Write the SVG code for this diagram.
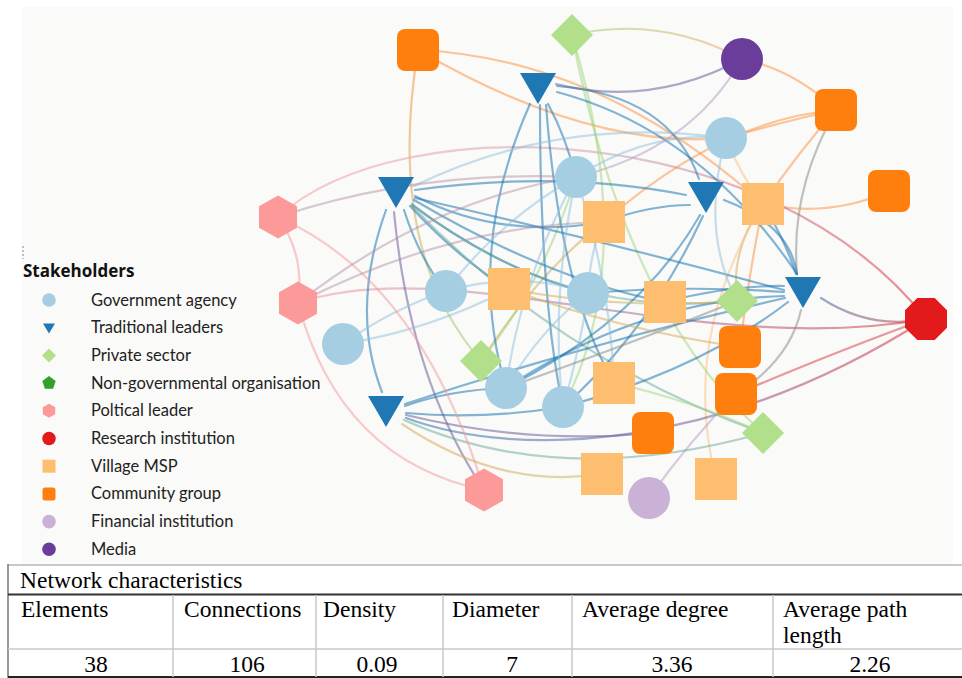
<svg xmlns="http://www.w3.org/2000/svg" width="962" height="678" viewBox="0 0 962 678">
<defs>
<style>
.e path{fill:none;stroke-width:2.2;stroke-linecap:round}
.b{stroke:#1f78b4;stroke-opacity:.55}
.lb{stroke:#8ec0dc;stroke-opacity:.5}
.o{stroke:#fd8d3c;stroke-opacity:.5}
.g{stroke:#9ed37a;stroke-opacity:.5}
.p{stroke:#f49a9a;stroke-opacity:.5}
.m{stroke:#b08aa0;stroke-opacity:.45}
.r{stroke:#d9474f;stroke-opacity:.55}
.pu{stroke:#6f5f9e;stroke-opacity:.55}
.t{stroke:#d2b060;stroke-opacity:.55}
.gy{stroke:#8c9090;stroke-opacity:.55}
.te{stroke:#6aa89a;stroke-opacity:.5}
.la{stroke:#b9a0cc;stroke-opacity:.55}
.pe{stroke:#fbc48e;stroke-opacity:.55}
.gr{stroke-opacity:.55}
.ga{fill:#a6cee3}
.tl{fill:#1f78b4}
.ps{fill:#b2df8a}
.pl{fill:#fb9a99}
.vm{fill:#fdbf6f}
.cg{fill:#ff7f0e}
.lg{font-family:Lato,"Open Sans","Liberation Sans",sans-serif;font-size:16.5px;fill:#222}
.tb{font-family:"Liberation Serif","Times New Roman",serif;font-size:23.5px;fill:#000}
</style>
<linearGradient id="gPL1RI" gradientUnits="userSpaceOnUse" x1="278" y1="217" x2="926" y2="319"><stop offset="0" stop-color="#f4a0a8"/><stop offset="0.5" stop-color="#c8a0b4"/><stop offset="1" stop-color="#d9303a"/></linearGradient>
<linearGradient id="gPL2RI" gradientUnits="userSpaceOnUse" x1="298" y1="303" x2="926" y2="319"><stop offset="0" stop-color="#f4a0a8"/><stop offset="0.5" stop-color="#9a70a0"/><stop offset="1" stop-color="#d9303a"/></linearGradient>
<linearGradient id="gTL5RI" gradientUnits="userSpaceOnUse" x1="386" y1="411" x2="926" y2="319"><stop offset="0" stop-color="#1f78b4"/><stop offset="0.5" stop-color="#6f5f9e"/><stop offset="1" stop-color="#d9303a"/></linearGradient>
<linearGradient id="gTL4RI" gradientUnits="userSpaceOnUse" x1="803" y1="292" x2="926" y2="319"><stop offset="0" stop-color="#1f78b4"/><stop offset="1" stop-color="#d9303a"/></linearGradient>
<linearGradient id="gCG1PS2" gradientUnits="userSpaceOnUse" x1="418" y1="50" x2="481" y2="361"><stop offset="0" stop-color="#fd8d3c"/><stop offset="1" stop-color="#9ed37a"/></linearGradient>
<linearGradient id="gPS1MED" gradientUnits="userSpaceOnUse" x1="572" y1="35" x2="742" y2="59"><stop offset="0" stop-color="#9ed37a"/><stop offset="1" stop-color="#f0a060"/></linearGradient>
<polygon id="tri" points="-18,-15 18,-15 0,16"/>
<polygon id="dia" points="0,-21 21,0 0,21 -21,0"/>
<polygon id="hex" points="0,-21.5 19,-10.75 19,10.75 0,21.5 -19,10.75 -19,-10.75"/>
<rect id="sq" x="-21" y="-21" width="42" height="42"/>
<rect id="rsq" x="-21" y="-21" width="42" height="42" rx="8"/>
</defs>
<rect x="0" y="0" width="962" height="678" fill="#ffffff"/>
<rect x="22" y="7" width="931" height="556" fill="#fafaf8"/>
<line x1="23" y1="246" x2="23" y2="259" stroke="#aaa" stroke-width="1.5" stroke-dasharray="2,2"/>

<g id="connectors" class="e">
<path class="o" d="M418,50 Q600,58 763,204"/>
<path class="o" d="M418,50 Q590,150 726,138"/>
<path class="gr" stroke="url(#gCG1PS2)" d="M418,50 Q385,250 481,361"/>
<path class="o" d="M742,59 Q795,70 836,110"/>
<path class="gr" stroke="url(#gPS1MED)" d="M572,35 Q660,15 742,59"/>
<path class="o" d="M836,110 Q790,120 726,138"/>
<path class="o" d="M836,110 Q720,120 604,222"/>
<path class="o" d="M836,110 Q800,150 763,204"/>
<path class="gy" d="M836,110 Q790,190 797,274"/>
<path class="o" d="M889,191 Q830,218 763,204"/>
<path class="gr" stroke="url(#gPL1RI)" d="M278,217 C400,105 770,120 926,319"/>
<path class="pe" d="M763,204 Q740,175 726,138"/>
<path class="o" d="M763,204 Q748,280 740,347"/>
<path class="t" d="M763,204 Q730,250 737,301"/>
<path class="pe" d="M763,204 Q680,340 716,479"/>
<path class="b" d="M796,274 Q785,240 763,204"/>
<path class="gr" stroke="url(#gPL2RI)" d="M298,303 C450,250 700,360 926,319"/>
<path class="r" d="M736,394 Q840,350 926,319"/>
<path class="gr" stroke="url(#gTL5RI)" d="M406,418 C520,460 720,450 926,319"/>
<path class="gy" d="M736,394 Q790,360 801,310"/>
<path class="la" d="M736,394 Q690,440 649,498"/>
<path class="pu" d="M556,84 Q650,108 742,59"/>
<path class="la" d="M742,59 Q690,150 576,177"/>
<path class="g" d="M572,35 Q625,310 763,433"/>
<path class="g" d="M572,35 Q640,260 563,407"/>
<path class="t" d="M604,222 Q540,270 481,361"/>
<path class="g" d="M576,177 Q545,280 481,361"/>
<path class="b" d="M548,104 Q565,135 576,177"/>
<path class="b" d="M530,104 Q465,250 506,388"/>
<path class="b" d="M540,105 Q540,300 563,407"/>
<path class="b" d="M546,105 Q560,290 614,383"/>
<path class="b" d="M557,86 Q670,95 699,179"/>
<path class="b" d="M557,92 Q700,130 797,274"/>
<path class="b" d="M404,210 Q420,260 446,291"/>
<path class="b" d="M410,206 Q460,260 509,289"/>
<path class="b" d="M412,205 Q500,270 588,293"/>
<path class="b" d="M414,200 Q550,280 665,302"/>
<path class="b" d="M415,198 Q600,240 784,290"/>
<path class="b" d="M415,196 Q500,240 604,222"/>
<path class="b" d="M415,190 Q560,170 686,195"/>
<path class="b" d="M386,210 Q350,310 382,392"/>
<path class="pu" d="M394,212 Q410,380 484,490"/>
<path class="te" d="M412,204 Q560,320 737,301"/>
<path class="lb" d="M414,186 Q560,115 726,138"/>
<path class="te" d="M412,206 Q560,360 763,433"/>
<path class="b" d="M690,205 Q650,205 604,222"/>
<path class="b" d="M700,215 Q640,320 506,388"/>
<path class="b" d="M703,216 Q650,330 563,407"/>
<path class="b" d="M724,200 Q790,225 797,274"/>
<path class="lb" d="M726,138 Q700,230 737,301"/>
<path class="lb" d="M576,177 Q650,130 726,138"/>
<path class="b" d="M588,293 Q690,285 784,292"/>
<path class="b" d="M665,302 Q730,285 784,286"/>
<path class="b" d="M506,388 Q640,300 784,296"/>
<path class="b" d="M405,404 Q600,340 785,298"/>
<path class="b" d="M563,407 Q700,370 788,302"/>
<path class="gr" stroke="url(#gTL4RI)" d="M821,298 Q870,330 926,319"/>
<path class="b" d="M405,406 Q450,390 506,388"/>
<path class="b" d="M406,413 Q480,420 563,407"/>
<path class="te" d="M404,420 Q560,490 763,433"/>
<path class="t" d="M402,424 Q500,490 602,474"/>
<path class="pu" d="M406,415 Q530,445 653,433"/>
<path class="lb" d="M343,344 Q390,310 446,291"/>
<path class="lb" d="M343,344 Q430,330 509,289"/>
<path class="lb" d="M576,177 Q500,220 446,291"/>
<path class="lb" d="M576,177 Q520,280 506,388"/>
<path class="lb" d="M576,177 Q550,300 563,407"/>
<path class="lb" d="M588,293 Q580,350 563,407"/>
<path class="lb" d="M588,293 Q540,330 506,388"/>
<path class="lb" d="M576,177 Q610,280 614,383"/>
<path class="lb" d="M446,291 Q520,270 588,293"/>
<path class="gy" d="M506,388 Q640,340 737,301"/>
<path class="lb" d="M588,293 Q590,250 604,222"/>
<path class="g" d="M614,383 Q690,400 763,433"/>
<path class="t" d="M509,289 Q620,330 740,347"/>
<path class="t" d="M509,289 Q620,310 737,301"/>
<path class="p" d="M278,217 Q305,255 298,303"/>
<path class="p" d="M278,217 Q420,280 484,490"/>
<path class="p" d="M298,303 Q340,460 484,490"/>
<path class="m" d="M278,217 Q420,170 576,177"/>
<path class="m" d="M298,303 Q430,200 576,177"/>
<path class="m" d="M298,303 Q450,225 604,222"/>
</g>

<g id="n-cg1"><use href="#rsq" class="cg" x="418" y="50"/></g>
<g id="n-cg2"><use href="#rsq" class="cg" x="836" y="110"/></g>
<g id="n-cg3"><use href="#rsq" class="cg" x="889" y="191"/></g>
<g id="n-cg4"><use href="#rsq" class="cg" x="740" y="347"/></g>
<g id="n-cg5"><use href="#rsq" class="cg" x="736" y="394"/></g>
<g id="n-cg6"><use href="#rsq" class="cg" x="653" y="433"/></g>
<g id="n-media"><circle cx="742" cy="59" r="21" fill="#6a3d9a"/></g>
<g id="n-fi"><circle cx="649" cy="498" r="21" fill="#cab2d6"/></g>
<g id="n-ri"><polygon points="947,327.7 934.7,340 917.3,340 905,327.7 905,310.3 917.3,298 934.7,298 947,310.3" fill="#e31a1c"/></g>
<g id="n-ps1"><use href="#dia" class="ps" x="572" y="35"/></g>
<g id="n-ps2"><use href="#dia" class="ps" x="481" y="361"/></g>
<g id="n-ps3"><use href="#dia" class="ps" x="737" y="301"/></g>
<g id="n-ps4"><use href="#dia" class="ps" x="763" y="433"/></g>
<g id="n-tl1"><use href="#tri" class="tl" x="538" y="88"/></g>
<g id="n-tl2"><use href="#tri" class="tl" x="396" y="192"/></g>
<g id="n-tl3"><use href="#tri" class="tl" x="706" y="197"/></g>
<g id="n-tl4"><use href="#tri" class="tl" x="803" y="292"/></g>
<g id="n-tl5"><use href="#tri" class="tl" x="386" y="411"/></g>
<g id="n-ga1"><circle class="ga" cx="726" cy="138" r="21"/></g>
<g id="n-ga2"><circle class="ga" cx="576" cy="177" r="21"/></g>
<g id="n-ga3"><circle class="ga" cx="446" cy="291" r="21"/></g>
<g id="n-ga4"><circle class="ga" cx="588" cy="293" r="21"/></g>
<g id="n-ga5"><circle class="ga" cx="343" cy="344" r="21"/></g>
<g id="n-ga6"><circle class="ga" cx="506" cy="388" r="21"/></g>
<g id="n-ga7"><circle class="ga" cx="563" cy="407" r="21"/></g>
<g id="n-vm1"><use href="#sq" class="vm" x="763" y="204"/></g>
<g id="n-vm2"><use href="#sq" class="vm" x="604" y="222"/></g>
<g id="n-vm3"><use href="#sq" class="vm" x="509" y="289"/></g>
<g id="n-vm4"><use href="#sq" class="vm" x="665" y="302"/></g>
<g id="n-vm5"><use href="#sq" class="vm" x="614" y="383"/></g>
<g id="n-vm6"><use href="#sq" class="vm" x="602" y="474"/></g>
<g id="n-vm7"><use href="#sq" class="vm" x="716" y="479"/></g>
<g id="n-pl1"><use href="#hex" class="pl" x="278" y="217"/></g>
<g id="n-pl2"><use href="#hex" class="pl" x="298" y="303"/></g>
<g id="n-pl3"><use href="#hex" class="pl" x="484" y="490"/></g>

<g id="legend">
<text x="23" y="277" font-family="'Open Sans',Lato,'Liberation Sans',sans-serif" font-size="17" font-weight="bold" fill="#111">Stakeholders</text>
<circle cx="49" cy="300" r="6.8" fill="#a6cee3"/>
<text class="lg" x="91" y="305.5">Government agency</text>
<polygon points="43,323.5 55,323.5 49,333.5" fill="#1f78b4"/>
<text class="lg" x="91" y="333.2">Traditional leaders</text>
<polygon points="49,348.4 56,355.4 49,362.4 42,355.4" fill="#b2df8a"/>
<text class="lg" x="91" y="360.9">Private sector</text>
<polygon points="49,376.1 55.7,381 53.1,388.8 44.9,388.8 42.3,381" fill="#33a02c"/>
<text class="lg" x="91" y="388.6">Non-governmental organisation</text>
<polygon points="49,403.8 55.2,407.3 55.2,414.3 49,417.8 42.8,414.3 42.8,407.3" fill="#fb9a99"/>
<text class="lg" x="91" y="416.3">Poltical leader</text>
<circle cx="49" cy="438.5" r="6.8" fill="#e31a1c"/>
<text class="lg" x="91" y="444">Research institution</text>
<rect x="42.5" y="459.7" width="13" height="13" fill="#fdbf6f"/>
<text class="lg" x="91" y="471.7">Village MSP</text>
<rect x="42.5" y="487.4" width="13" height="13" rx="2.5" fill="#ff7f0e"/>
<text class="lg" x="91" y="499.4">Community group</text>
<circle cx="49" cy="521.6" r="6.8" fill="#cab2d6"/>
<text class="lg" x="91" y="527.1">Financial institution</text>
<circle cx="49" cy="549.3" r="6.8" fill="#6a3d9a"/>
<text class="lg" x="91" y="554.8">Media</text>
</g>

<g id="table">
<line x1="8" y1="565" x2="962" y2="565" stroke="#c8c8c8" stroke-width="2"/>
<line x1="8" y1="564" x2="8" y2="678" stroke="#777" stroke-width="1.5"/>
<line x1="8" y1="594.5" x2="962" y2="594.5" stroke="#333" stroke-width="1.8"/>
<line x1="8" y1="649" x2="962" y2="649" stroke="#c8c8c8" stroke-width="1.5"/>
<line x1="8" y1="677" x2="962" y2="677" stroke="#222" stroke-width="2"/>
<g stroke="#c8c8c8" stroke-width="1.5">
<line x1="173" y1="595" x2="173" y2="677"/>
<line x1="316" y1="595" x2="316" y2="677"/>
<line x1="443" y1="595" x2="443" y2="677"/>
<line x1="572" y1="595" x2="572" y2="677"/>
<line x1="773" y1="595" x2="773" y2="677"/>
</g>
<text class="tb" x="20" y="588">Network characteristics</text>
<text class="tb" x="21" y="617">Elements</text>
<text class="tb" x="184" y="617">Connections</text>
<text class="tb" x="323" y="617">Density</text>
<text class="tb" x="452" y="617">Diameter</text>
<text class="tb" x="582" y="617">Average degree</text>
<text class="tb" x="783" y="617">Average path</text>
<text class="tb" x="783" y="643">length</text>
<g text-anchor="middle">
<text class="tb" x="96" y="672">38</text>
<text class="tb" x="247" y="672">106</text>
<text class="tb" x="377" y="672">0.09</text>
<text class="tb" x="512" y="672">7</text>
<text class="tb" x="672" y="672">3.36</text>
<text class="tb" x="870" y="672">2.26</text>
</g>
</g>
</svg>
